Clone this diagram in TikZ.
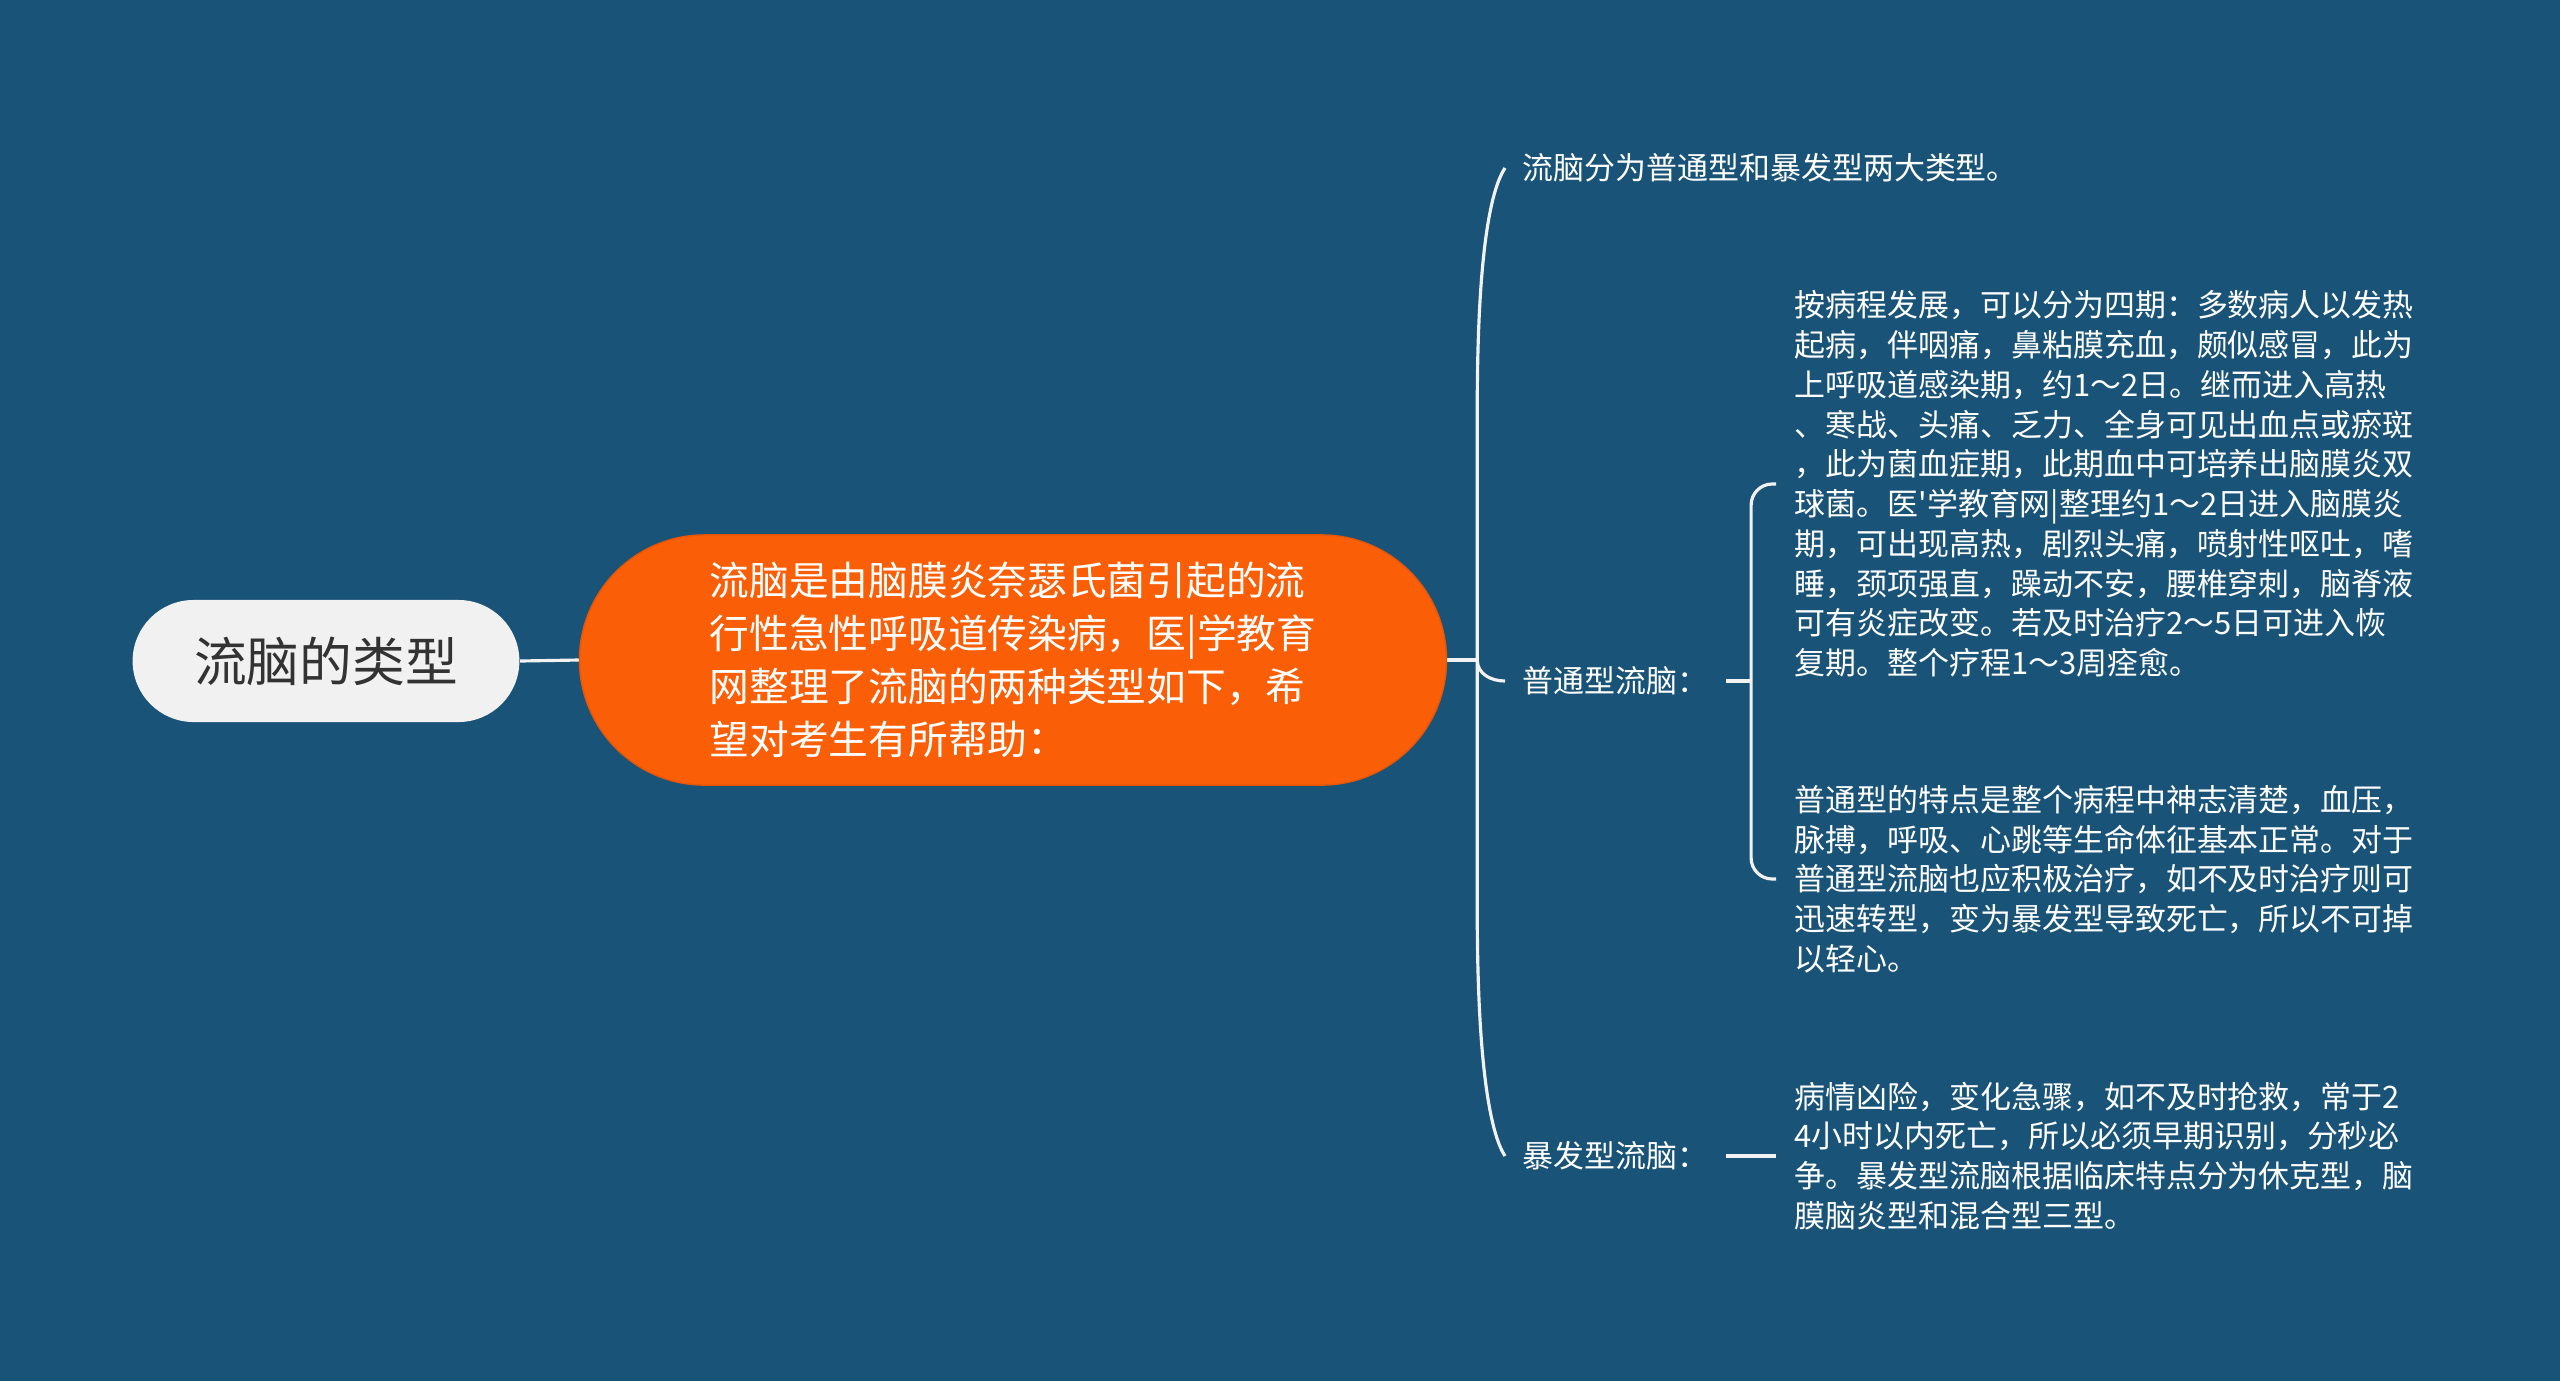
\documentclass[tikz,border=0pt]{standalone}
\usepackage{fontspec}
\newfontfamily\cjkfont{Noto Sans CJK SC}
\usetikzlibrary{shapes.misc,calc}
\definecolor{bgblue}{HTML}{1A5378}
\definecolor{mainorange}{HTML}{FA5E07}
\definecolor{rootgray}{HTML}{F1F1F1}
\definecolor{linewhite}{HTML}{F2F2F2}
\tikzset{
	rootbox/.style={rounded rectangle,fill=rootgray,text=black!80,minimum width=4.1cm,minimum height=1.22cm,font=\cjkfont\fontsize{15pt}{18pt}\selectfont},
	mainbox/.style={rounded rectangle,fill=mainorange,draw=mainorange!92!black,text=white,align=left,minimum width=8.9cm,minimum height=2.5cm,font=\cjkfont\fontsize{11.3pt}{15.1pt}\selectfont},
	lbl/.style={anchor=west,text=white,inner xsep=0.17cm,inner ysep=0pt,font=\cjkfont\fontsize{8.8pt}{11.3pt}\selectfont},
	txt/.style={lbl,align=left,inner xsep=0.18cm},
	branch/.style={draw=linewhite,line width=0.9pt}
}
\begin{document}
\begin{tikzpicture}[x=0.01cm,y=-0.01cm]
	\fill [bgblue] (0,0) rectangle (2560,1381);
	\useasboundingbox (0,0) rectangle (2560,1381);
	\node [rootbox] (root) at (326,661) {流脑的类型};
	\node [mainbox] (main) at (1013,660) {流脑是由脑膜炎奈瑟氏菌引起的流\\行性急性呼吸道传染病，医|学教育\\网整理了流脑的两种类型如下，希\\望对考生有所帮助：};
	\node [lbl] (top) at (1505,168) {流脑分为普通型和暴发型两大类型。};
	\node [lbl] (pt) at (1505,681) {普通型流脑：};
	\node [lbl] (bf) at (1505,1156) {暴发型流脑：};
	\node [txt] (d1) at (1776,484) {按病程发展，可以分为四期：多数病人以发热\\起病，伴咽痛，鼻粘膜充血，颇似感冒，此为\\上呼吸道感染期，约1～2日。继而进入高热\\、寒战、头痛、乏力、全身可见出血点或瘀斑\\，此为菌血症期，此期血中可培养出脑膜炎双\\球菌。医'学教育网|整理约1～2日进入脑膜炎\\期，可出现高热，剧烈头痛，喷射性呕吐，嗜\\睡，颈项强直，躁动不安，腰椎穿刺，脑脊液\\可有炎症改变。若及时治疗2～5日可进入恢\\复期。整个疗程1～3周痊愈。};
	\node [txt] (d2) at (1776,879) {普通型的特点是整个病程中神志清楚，血压，\\脉搏，呼吸、心跳等生命体征基本正常。对于\\普通型流脑也应积极治疗，如不及时治疗则可\\迅速转型，变为暴发型导致死亡，所以不可掉\\以轻心。};
	\node [txt] (d3) at (1776,1156) {病情凶险，变化急骤，如不及时抢救，常于2\\4小时以内死亡，所以必须早期识别，分秒必\\争。暴发型流脑根据临床特点分为休克型，脑\\膜脑炎型和混合型三型。};
	\coordinate (j1) at ($(main.east)+(30,0)$);
	\coordinate (j2) at ($(pt.east)+(25,0)$);
	\draw [branch] (root.east) -- (main.west);
	\draw [branch] (main.east) -- (j1);
	\draw [branch] (j1) -- ($(j1)+(0,-250)$) .. controls ($(j1)+(0,-420)$) and ($(top.west)+(-12,18)$) .. (top.west);
	\draw [branch] (j1) .. controls ($(j1)+(0,14)$) and ($(pt.west)+(-14,0)$) .. (pt.west);
	\draw [branch] (j1) -- ($(j1)+(0,250)$) .. controls ($(j1)+(0,420)$) and ($(bf.west)+(-12,-18)$) .. (bf.west);
	\draw [branch] (pt.east) -- (j2);
	\draw [branch,rounded corners=6pt] (j2) |- (d1.west);
	\draw [branch,rounded corners=6pt] (j2) |- (d2.west);
	\draw [branch] (bf.east) -- (d3.west);
\end{tikzpicture}
\end{document}
